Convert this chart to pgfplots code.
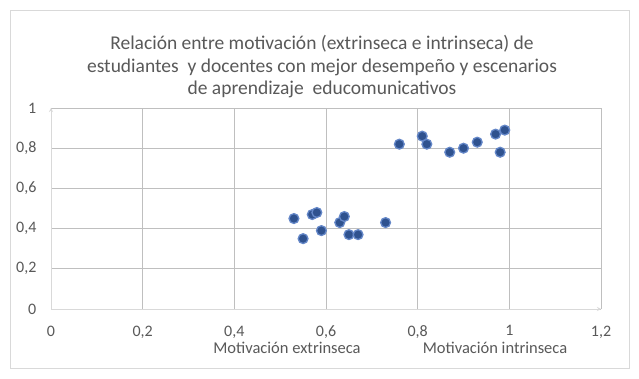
\documentclass[border=0pt]{standalone}
\usepackage{pgfplots}
\pgfplotsset{compat=1.18}
\usepackage{fontspec}
\setmainfont{Carlito}
\definecolor{grid}{RGB}{217,217,217}
\definecolor{txt}{RGB}{89,89,89}
\definecolor{mk}{RGB}{47,82,143}
\definecolor{mkedge}{RGB}{100,135,200}
\begin{document}
\begin{tikzpicture}
\path[use as bounding box] (0bp,0bp) rectangle (639bp,379bp);
\draw[grid,line width=0.8bp,fill=white] (10.5bp,11bp) rectangle (629bp,369bp);
\node[txt,font=\fontsize{19.5bp}{22.5bp}\selectfont,align=center,anchor=center] at (322bp,312bp) {Relación entre motivación (extrinseca e intrinseca) de\\estudiantes\ \ y docentes con mejor desempeño y escenarios\\de aprendizaje\ \ educomunicativos};
\begin{axis}[
  at={(51bp,70bp)}, anchor=south west,
  scale only axis, width=550bp, height=201bp,
  xmin=0, xmax=1.2, ymin=0, ymax=1,
  xtick={0,0.2,...,1.2}, ytick={0,0.2,...,1},
  grid=major, major grid style={grid,line width=0.8bp},
  axis line style={grid,line width=0.8bp},
  axis x line=bottom, axis y line=left,
  tick style={draw=none},
  ticklabel style={txt,font=\fontsize{16bp}{18bp}\selectfont},
  /pgf/number format/use comma,
  /pgf/number format/assume math mode=true,
  xticklabel style={yshift=-11bp},
  yticklabel style={xshift=-9bp},
  clip=false,
]
\addplot[only marks, mark=*, mark size=4.9bp, mark options={fill=mk, draw=mkedge, line width=1.3bp}] coordinates {
(0.53,0.45) (0.55,0.35) (0.57,0.47) (0.58,0.48) (0.59,0.39)
(0.63,0.43) (0.64,0.46) (0.65,0.37) (0.67,0.37) (0.73,0.43)
(0.76,0.82) (0.81,0.86) (0.82,0.82) (0.87,0.78) (0.90,0.80)
(0.93,0.83) (0.97,0.87) (0.99,0.89) (0.98,0.78)
};
\end{axis}
\node[txt,font=\fontsize{16.5bp}{18bp}\selectfont] at (287bp,31bp) {Motivación extrinseca};
\node[txt,font=\fontsize{16.5bp}{18bp}\selectfont] at (495bp,31bp) {Motivación intrinseca};
\end{tikzpicture}
\end{document}
